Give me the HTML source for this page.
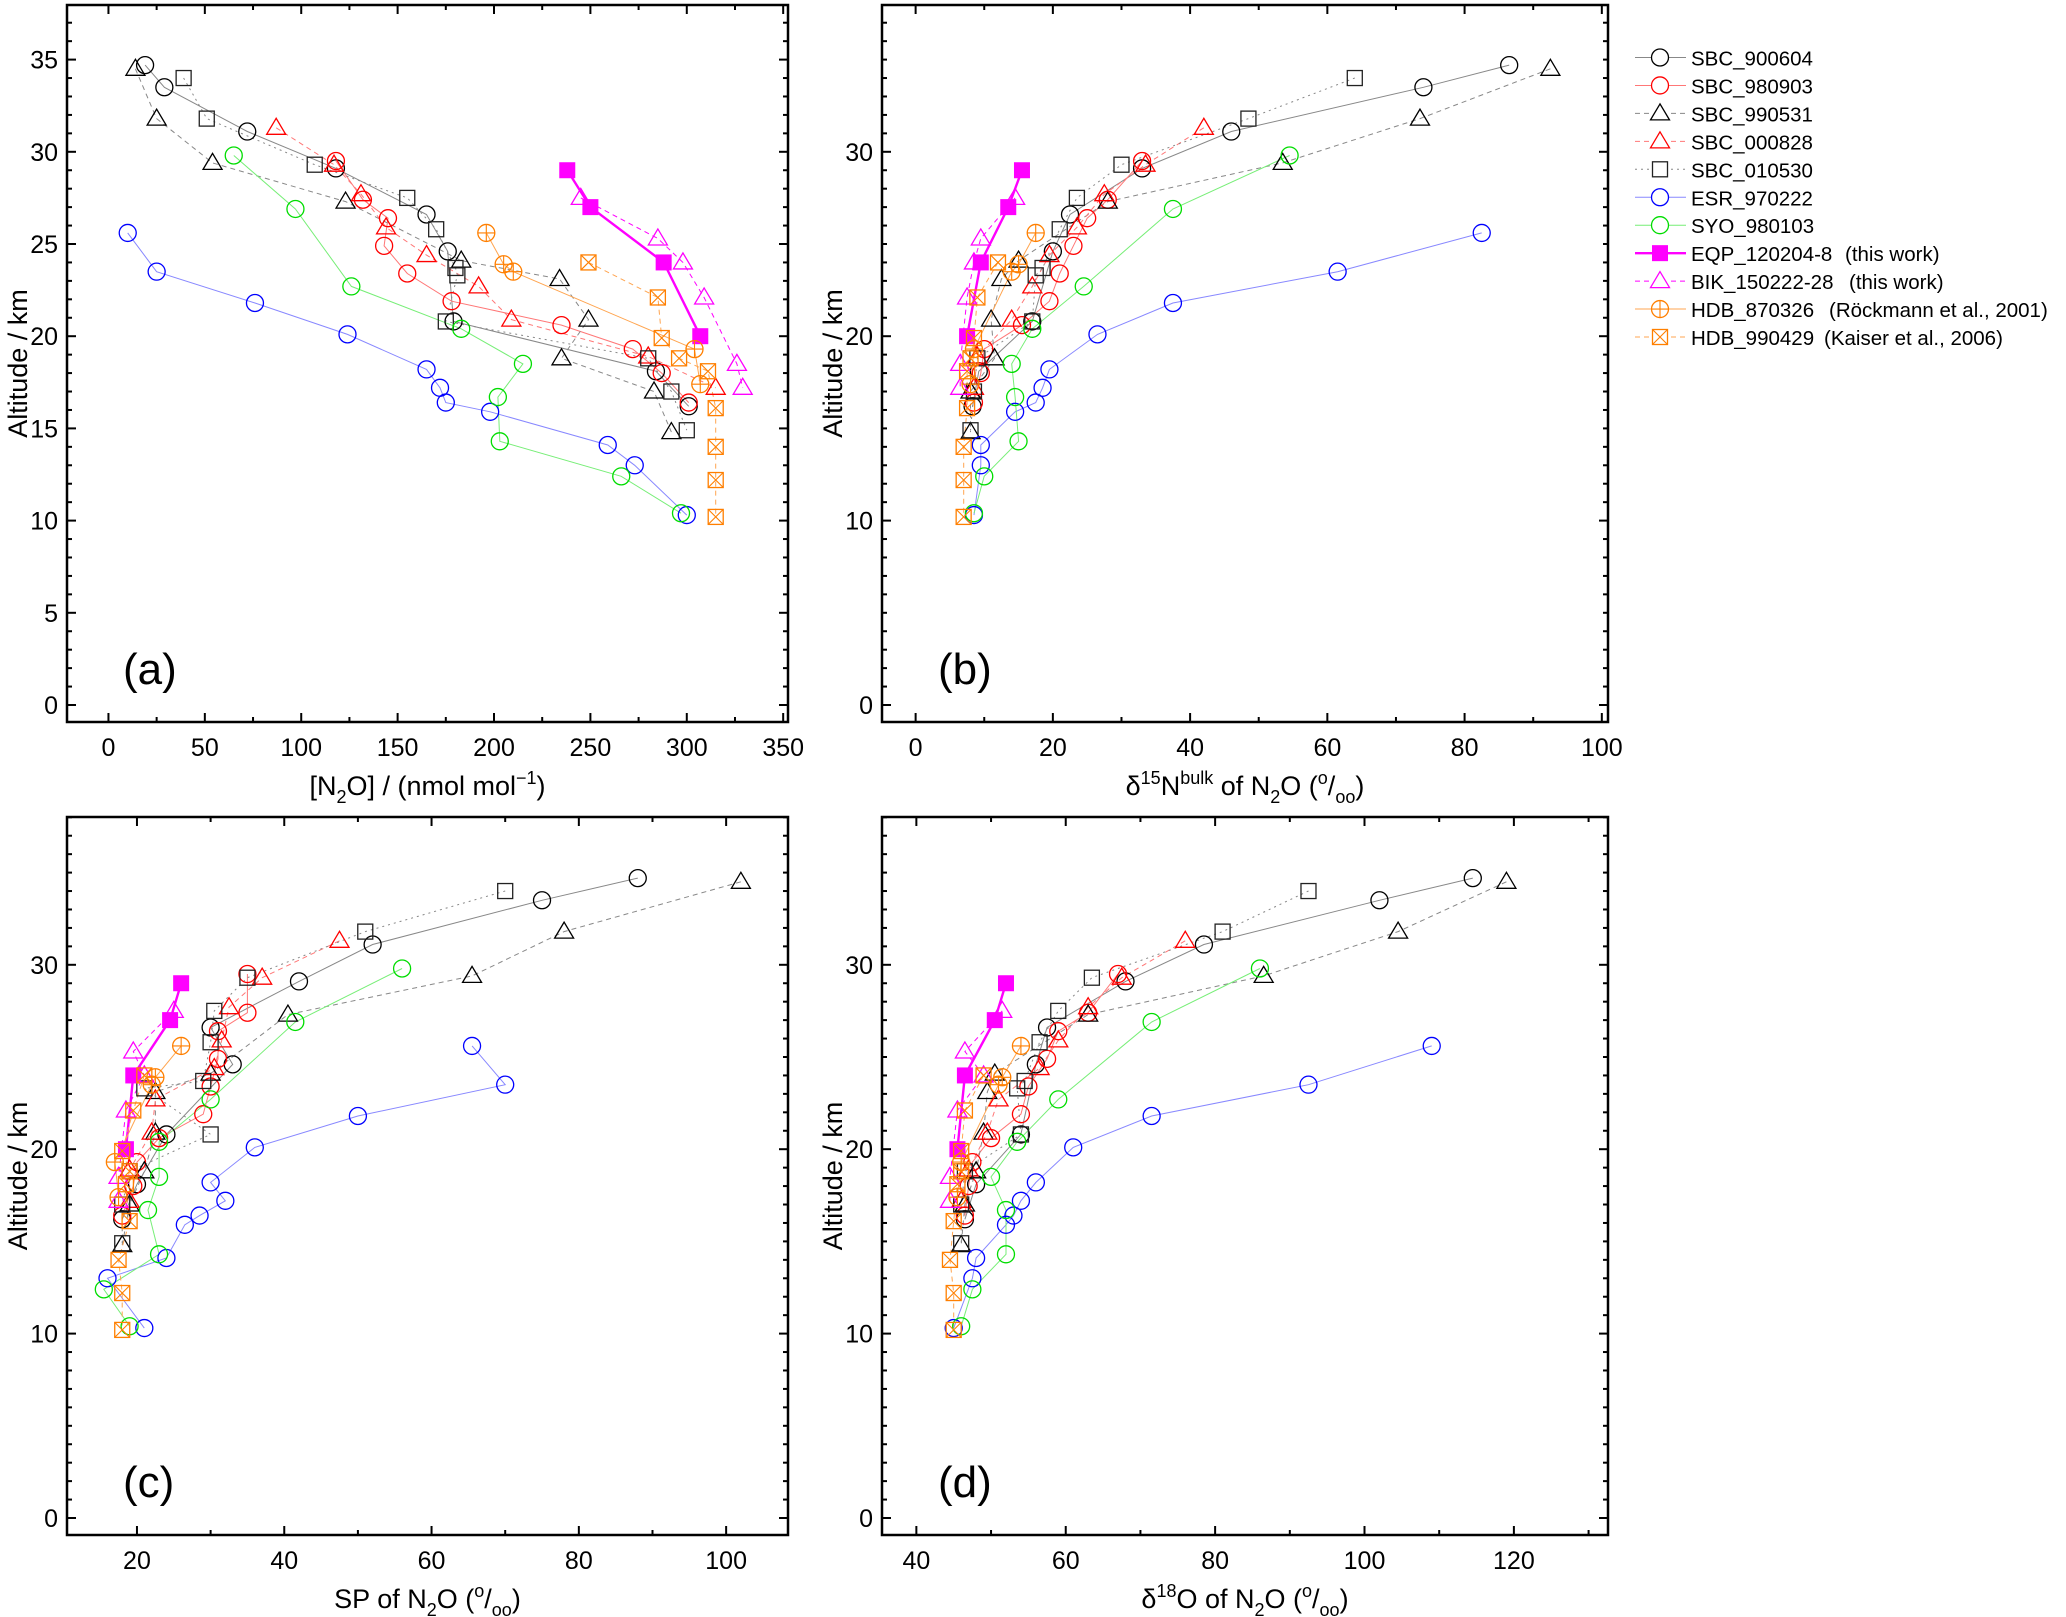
<!DOCTYPE html>
<html><head><meta charset="utf-8"><style>
html,body{margin:0;padding:0;background:#fff;}
svg{display:block;font-family:"Liberation Sans",Arial,sans-serif;}
</style></head><body>
<svg id="chart" width="2066" height="1617" viewBox="0 0 2066 1617" xmlns="http://www.w3.org/2000/svg"></svg>
<script>
// ---- data ----
const seriesNames = ["SBC_900604","SBC_980903","SBC_990531","SBC_000828","SBC_010530","ESR_970222","SYO_980103","EQP_120204-8","BIK_150222-28","HDB_870326","HDB_990429"];
const seriesNotes = ["","","","","","","","(this work)","(this work)","(Röckmann et al., 2001)","(Kaiser et al., 2006)"];
const alt_SBC900604 = [34.7,33.5,31.1,29.1,26.6,24.6,20.8,18.1,16.2];
const alt_SBC980903 = [29.5,27.4,26.4,24.9,23.4,21.9,20.6,19.3,18.0,16.4];
const alt_SBC990531 = [34.5,31.8,29.4,27.3,24.1,23.1,20.9,18.8,17.0,14.8];
const alt_SBC000828 = [31.3,29.3,27.7,25.9,24.4,22.7,20.9,18.9,17.2];
const alt_SBC010530 = [34.0,31.8,29.3,27.5,25.8,23.7,23.3,20.8,18.8,17.0,14.9];
const alt_ESR = [25.6,23.5,21.8,20.1,18.2,17.2,16.4,15.9,14.1,13.0,10.3];
const alt_SYO = [29.8,26.9,22.7,20.4,18.5,16.7,14.3,12.4,10.4];
const alt_EQP = [29.0,27.0,24.0,20.0];
const alt_BIK = [27.5,25.3,24.0,22.1,18.5,17.2];
const alt_HDB87 = [25.6,23.9,23.5,19.3,17.4];
const alt_HDB99 = [24.0,22.1,19.9,18.8,18.1,16.1,14.0,12.2,10.2];

// panel (a) N2O mixing ratio
const n2o_SBC900604 = [19,29,72,118,165,176,179,284,301];
const n2o_SBC980903 = [118,132,145,143,155,178,235,272,287,301];
const n2o_SBC990531 = [14,25,54,123,183,234,249,235,283,292];
const n2o_SBC000828 = [87,117,131,144,165,192,209,280,315];
const n2o_SBC010530 = [39,51,107,155,170,180,181,175,280,292,300];
const n2o_ESR = [10,25,76,124,165,172,175,198,259,273,300];
const n2o_SYO = [65,97,126,183,215,202,203,266,297];
const n2o_EQP = [238,250,288,307];
const n2o_BIK = [245,285,298,309,326,329];
const n2o_HDB87 = [196,205,210,304,307];
const n2o_HDB99 = [249,285,287,296,311,315,315,315,315];

// panel (b) d15N bulk
const d15_SBC900604 = [86.5,74,46,33,22.5,20,17,9.2,8.3];
const d15_SBC980903 = [33,28,25,23,21,19.5,15.5,10,9.5,8.5];
const d15_SBC990531 = [92.5,73.5,53.5,28,15,12.5,11,11.5,8,8];
const d15_SBC000828 = [42,33.5,27.5,23.5,19.5,17,14,9,8.5];
const d15_SBC010530 = [64,48.5,30,23.5,21,18.5,17.5,17,9,8.5,8];
const d15_ESR = [82.5,61.5,37.5,26.5,19.5,18.5,17.5,14.5,9.5,9.5,8.5];
const d15_SYO = [54.5,37.5,24.5,17,14,14.5,15,10,8.5];
const d15_EQP = [15.5,13.5,9.5,7.5];
const d15_BIK = [14.5,9.5,8.5,7.5,6.5,6.5];
const d15_HDB87 = [17.5,15,14,8.5,8];
const d15_HDB99 = [12,9,8.5,8,7.5,7.5,7,7,7];

// panel (c) SP
const sp_SBC900604 = [88,75,52,42,30,33,24,20,18];
const sp_SBC980903 = [35,35,31,31,30,29,23,20,19.5,18];
const sp_SBC990531 = [102,78,65.5,40.5,30,22.5,22.5,21,19,18];
const sp_SBC000828 = [47.5,37,32.5,31.5,30.5,22.5,22,19,19];
const sp_SBC010530 = [70,51,35,30.5,30,29,21,30,19,18,18];
const sp_ESR = [65.5,70,50,36,30,32,28.5,26.5,24,16,21];
const sp_SYO = [56,41.5,30,23,23,21.5,23,15.5,19];
const sp_EQP = [26,24.5,19.5,18.5];
const sp_BIK = [25,19.5,21,18.5,17.5,17.5];
const sp_HDB87 = [26,22.5,22,17,17.5];
const sp_HDB99 = [21,19.5,18,19,18.5,19,17.5,18,18];

// panel (d) d18O
const d18_SBC900604 = [114.5,102,78.5,68,57.5,56,54,48,46.5];
const d18_SBC980903 = [67,63,59,57.5,55,54,50,47.5,47,46.5];
const d18_SBC990531 = [119,104.5,86.5,63,50.5,49.5,49,48,46.5,46];
const d18_SBC000828 = [76,67.5,63,59,56.5,51,49.5,47,46];
const d18_SBC010530 = [92.5,81,63.5,59,56.5,54.5,53.5,54,46.5,46,46];
const d18_ESR = [109,92.5,71.5,61,56,54,53,52,48,47.5,45];
const d18_SYO = [86,71.5,59,53.5,50,52,52,47.5,46];
const d18_EQP = [52,50.5,46.5,45.5];
const d18_BIK = [51.5,46.5,49,45.5,44.5,44.5];
const d18_HDB87 = [54,51.5,51,46,45.5];
const d18_HDB99 = [49,46.5,46,46,45.5,45,44.5,45,45];

const altData = [alt_SBC900604,alt_SBC980903,alt_SBC990531,alt_SBC000828,alt_SBC010530,alt_ESR,alt_SYO,alt_EQP,alt_BIK,alt_HDB87,alt_HDB99];
const panelA = [n2o_SBC900604,n2o_SBC980903,n2o_SBC990531,n2o_SBC000828,n2o_SBC010530,n2o_ESR,n2o_SYO,n2o_EQP,n2o_BIK,n2o_HDB87,n2o_HDB99];
const panelB = [d15_SBC900604,d15_SBC980903,d15_SBC990531,d15_SBC000828,d15_SBC010530,d15_ESR,d15_SYO,d15_EQP,d15_BIK,d15_HDB87,d15_HDB99];
const panelC = [sp_SBC900604,sp_SBC980903,sp_SBC990531,sp_SBC000828,sp_SBC010530,sp_ESR,sp_SYO,sp_EQP,sp_BIK,sp_HDB87,sp_HDB99];
const panelD = [d18_SBC900604,d18_SBC980903,d18_SBC990531,d18_SBC000828,d18_SBC010530,d18_ESR,d18_SYO,d18_EQP,d18_BIK,d18_HDB87,d18_HDB99];

const xTicksA = [0,50,100,150,200,250,300,350];
const xTicksB = [0,20,40,60,80,100];
const xTicksC = [20,40,60,80,100];
const xTicksD = [40,60,80,100,120];
const yTicksTop = [0,5,10,15,20,25,30,35];
const yTicksBot = [0,10,20,30];

// ---- styles ----
const mColor = ["#000","#f00","#000","#f00","#222","#00f","#0d0","#f0f","#f0f","#ff7f00","#ff7f00"];
const lColor = ["#888","#f77","#888","#f77","#888","#88f","#7e7","#f0f","#f0f","#ffa550","#ffa550"];
const lDash = ["","","5,4","5,4","2,4","","","","5,4","","5,4"];
const lWidth = [1,1,1,1,1,1,1,2.4,1,1,1];
const mShape = ["circle","circle","tri","tri","square","circle","circle","fsquare","tri","cplus","sqx"];

const NS="http://www.w3.org/2000/svg";
const svg=document.getElementById('chart');
function el(tag,attrs,parent){const e=document.createElementNS(NS,tag);for(const k in attrs)e.setAttribute(k,attrs[k]);(parent||svg).appendChild(e);return e;}

function marker(g,shape,x,y,c){
  const r=8.5;let m;const sw=1.3;
  if(shape==="circle"){m=el('circle',{cx:x,cy:y,r:r,fill:'none',stroke:c,'stroke-width':sw},g);}
  else if(shape==="tri"){m=el('polygon',{points:`${x},${y-r-1} ${x-r-1},${y+r-2} ${x+r+1},${y+r-2}`,fill:'none',stroke:c,'stroke-width':sw},g);}
  else if(shape==="square"){m=el('rect',{x:x-7.5,y:y-7.5,width:15,height:15,fill:'none',stroke:c,'stroke-width':sw},g);}
  else if(shape==="fsquare"){m=el('rect',{x:x-7.5,y:y-7.5,width:15,height:15,fill:c,stroke:c},g);}
  else if(shape==="cplus"){m=el('g',{},g);el('circle',{cx:x,cy:y,r:r,fill:'none',stroke:c,'stroke-width':sw},m);el('path',{d:`M${x-r},${y}H${x+r}M${x},${y-r}V${y+r}`,stroke:c,'stroke-width':1.1},m);}
  else if(shape==="sqx"){m=el('g',{},g);el('rect',{x:x-7.5,y:y-7.5,width:15,height:15,fill:'none',stroke:c,'stroke-width':sw},m);el('path',{d:`M${x-7.5},${y-7.5}L${x+7.5},${y+7.5}M${x+7.5},${y-7.5}L${x-7.5},${y+7.5}`,stroke:c,'stroke-width':1.1},m);}
  return m;
}

function panel(cfg){
  const {name,L,R,T,B,xmin,xmax,ymin,ymax,xticks,xminor,yticks,xTitle,yTitle,label,data}=cfg;
  const sx=v=>L+(v-xmin)/(xmax-xmin)*(R-L);
  const sy=v=>B-(v-ymin)/(ymax-ymin)*(B-T);
  const g=el('g',{});
  
  
  const tg=el('g',{stroke:'#000','stroke-width':2},g);
  for(let v=Math.ceil(ymin);v<=ymax;v++){
    const major=yticks.includes(v);const len=major?9:5;
    el('line',{x1:L,x2:L+len,y1:sy(v),y2:sy(v)},tg);
    el('line',{x1:R,x2:R-len,y1:sy(v),y2:sy(v)},tg);
  }
  for(let v=Math.ceil(xmin/xminor)*xminor;v<=xmax;v+=xminor){
    const major=xticks.includes(v);const len=major?9:5;
    el('line',{x1:sx(v),x2:sx(v),y1:B,y2:B-len},tg);
    el('line',{x1:sx(v),x2:sx(v),y1:T,y2:T+len},tg);
  }
  const yl=el('g',{'font-size':25,'text-anchor':'end'},g);
  
  
  yticks.forEach(v=>{const t=el('text',{x:L-9,y:sy(v)+9},yl);t.textContent=v;});
  const xl=el('g',{'font-size':25,'text-anchor':'middle'},g);
  
  
  xticks.forEach(v=>{const t=el('text',{x:sx(v),y:B+34},xl);t.textContent=v;});
  data.forEach((xs,i)=>{
    const ys=altData[i];
    const sg=el('g',{},g);
    
    
    const d=xs.map((v,k)=>(k?'L':'M')+sx(v).toFixed(1)+','+sy(ys[k]).toFixed(1)).join('');
    const p=el('path',{d:d,fill:'none',stroke:lColor[i],'stroke-width':lWidth[i]},sg);
    if(lDash[i])p.setAttribute('stroke-dasharray',lDash[i]);
  });
  data.forEach((xs,i)=>{
    const ys=altData[i];
    const mg=el('g',{},g);
    
    
    xs.forEach((v,k)=>marker(mg,mShape[i],sx(v),sy(ys[k]),mColor[i]));
  });
  el('rect',{x:L,y:T,width:R-L,height:B-T,fill:'none',stroke:'#000','stroke-width':2.5},g);
  const yt=el('text',{x:0,y:0,'font-size':27,'text-anchor':'middle',transform:`translate(${L-40},${(T+B)/2}) rotate(-90)`},g);
  
  
  yt.textContent=yTitle;
  const xt=el('text',{x:(L+R)/2,y:B+73,'font-size':27,'text-anchor':'middle'},g);
  
  
  xt.innerHTML=xTitle;
  const lb=el('text',{x:L+56,y:B-38,'font-size':44},g);
  
  
  lb.textContent=label;
}

const yPerKm=18.44;
panel({name:'panel-a',L:67,R:788,T:5,B:722,xmin:-21.5,xmax:352.5,ymin:-(722-705)/yPerKm,ymax:(705-5)/yPerKm,xticks:xTicksA,xminor:25,yticks:yTicksTop,
 yTitle:'Altitude / km',label:'(a)',data:panelA,
 xTitle:'[N<tspan dy="8" font-size="18">2</tspan><tspan dy="-8">O] / (nmol mol</tspan><tspan dy="-11" font-size="18">−1</tspan><tspan dy="11">)</tspan>'});
panel({name:'panel-b',L:882,R:1608,T:5,B:722,xmin:-4.9,xmax:100.9,ymin:-(722-705)/yPerKm,ymax:(705-5)/yPerKm,xticks:xTicksB,xminor:10,yticks:yTicksBot,
 yTitle:'Altitude / km',label:'(b)',data:panelB,
 xTitle:'δ<tspan dy="-11" font-size="18">15</tspan><tspan dy="11">N</tspan><tspan dy="-11" font-size="18">bulk</tspan><tspan dy="11"> of N</tspan><tspan dy="8" font-size="18">2</tspan><tspan dy="-8">O  (</tspan><tspan dy="-11" font-size="18">o</tspan><tspan dy="11">/</tspan><tspan dy="8" font-size="18">oo</tspan><tspan dy="-8">)</tspan>'});
panel({name:'panel-c',L:67,R:788,T:817,B:1535,xmin:10.5,xmax:108.4,ymin:-(1535-1518)/yPerKm,ymax:(1518-817)/yPerKm,xticks:xTicksC,xminor:10,yticks:yTicksBot,
 yTitle:'Altitude / km',label:'(c)',data:panelC,
 xTitle:'SP of N<tspan dy="8" font-size="18">2</tspan><tspan dy="-8">O  (</tspan><tspan dy="-11" font-size="18">o</tspan><tspan dy="11">/</tspan><tspan dy="8" font-size="18">oo</tspan><tspan dy="-8">)</tspan>'});
panel({name:'panel-d',L:882,R:1608,T:817,B:1535,xmin:35.4,xmax:132.6,ymin:-(1535-1518)/yPerKm,ymax:(1518-817)/yPerKm,xticks:xTicksD,xminor:10,yticks:yTicksBot,
 yTitle:'Altitude / km',label:'(d)',data:panelD,
 xTitle:'δ<tspan dy="-11" font-size="18">18</tspan><tspan dy="11">O of N</tspan><tspan dy="8" font-size="18">2</tspan><tspan dy="-8">O  (</tspan><tspan dy="-11" font-size="18">o</tspan><tspan dy="11">/</tspan><tspan dy="8" font-size="18">oo</tspan><tspan dy="-8">)</tspan>'});

// legend
const noteX=[0,0,0,0,0,0,0,1845,1849,1829,1824];
const lg=el('g',{});


seriesNames.forEach((n,i)=>{
  const y=57.5+i*27.95;
  const eg=el('g',{},lg);
  
  
  const p=el('line',{x1:1635,x2:1686,y1:y,y2:y,stroke:lColor[i],'stroke-width':lWidth[i]},eg);
  if(lDash[i])p.setAttribute('stroke-dasharray',lDash[i]);
  el('rect',{x:1652,y:y-8,width:16,height:16,fill:'#fff',stroke:'none'},eg);
  marker(eg,mShape[i],1660,y,mColor[i]);
  const t=el('text',{x:1691,y:y+8,'font-size':20.5},eg);t.textContent=n;
  if(seriesNotes[i]){const t2=el('text',{x:noteX[i],y:y+8,'font-size':20.5},eg);t2.textContent=seriesNotes[i];}
});
</script>
</body></html>
